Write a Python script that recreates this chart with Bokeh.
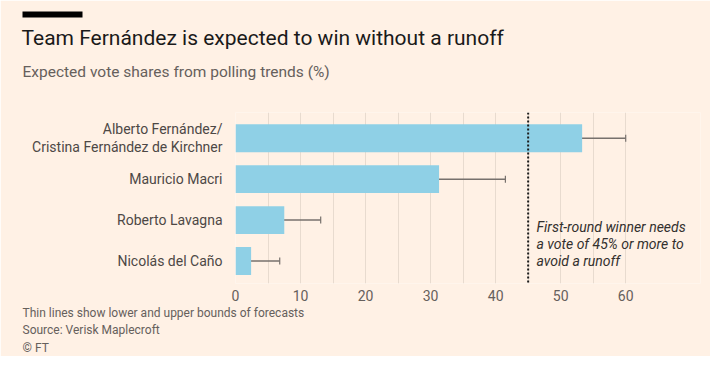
from bokeh.plotting import figure
from bokeh.models import (Range1d, FixedTicker, Label, Span, Whisker, TeeHead,
                          ColumnDataSource, Title)
from bokeh.embed import file_html
from bokeh.resources import INLINE

# ---- data ----
candidates = ["Alberto Fernández/\nCristina Fernández de Kirchner",
              "Mauricio Macri", "Roberto Lavagna", "Nicolás del Caño"]
expected = [53.3, 31.3, 7.5, 2.4]
lower = [46.5, 21.4, 2.0, 1.3]
upper = [60.0, 41.5, 13.1, 6.8]
threshold = 45
x_ticks = [0, 10, 20, 30, 40, 50, 60]
x_minor = [5, 15, 25, 35, 45, 55]

title = "Team Fernández is expected to win without a runoff"
subtitle = "Expected vote shares from polling trends (%)"
notes = ["Thin lines show lower and upper bounds of forecasts",
         "Source: Verisk Maplecroft", "© FT"]
annotation = ["First-round winner needs", "a vote of 45% or more to", "avoid a runoff"]

BG = "#fff1e5"
BAR = "#8fd0e6"
TXT = "#33302e"
GREY = "#66605c"
FONT = "Roboto"

FRAME_L, FRAME_R, FRAME_T, FRAME_B = 235, 700, 112, 283
W, H = 710, 356

n = len(candidates)
ypos = list(range(n - 1, -1, -1))

src = ColumnDataSource(dict(y=ypos, v=expected, lo=lower, hi=upper))

p = figure(width=W, height=H, output_backend="svg", toolbar_location=None,
           x_range=Range1d(0, 71.5), y_range=Range1d(-0.55, 3.63),
           min_border_left=FRAME_L, min_border_right=W - FRAME_R,
           min_border_top=FRAME_T, min_border_bottom=H - FRAME_B,
           outline_line_color=None,
           background_fill_color=BG, border_fill_color=BG)

p.hbar(y="y", right="v", left=0, height=0.68, source=src, color=BAR, line_color=None)
EB = "#77716d"
p.add_layout(Whisker(source=src, base="y", lower="lo", upper="hi", dimension="width",
                     line_color=EB, line_width=1.5,
                     upper_head=TeeHead(size=7, line_color=EB, line_width=1.2),
                     lower_head=TeeHead(size=7, line_color=EB, line_width=1.2)))

p.add_layout(Span(location=threshold, dimension="height", line_color="#1a1a1a",
                  line_width=2, line_dash="2 2"))

# axes
p.xaxis.ticker = FixedTicker(ticks=x_ticks, minor_ticks=x_minor)
p.xaxis.axis_line_color = None
p.xaxis.major_tick_line_color = None
p.xaxis.minor_tick_line_color = None
p.xaxis.major_tick_out = 0
p.xaxis.minor_tick_out = 0
p.xaxis.major_label_standoff = 6
p.xaxis.major_label_text_font = FONT
p.xaxis.major_label_text_font_size = "14px"
p.xaxis.major_label_text_line_height = 1.0
p.xaxis.major_label_text_color = GREY

p.yaxis.ticker = FixedTicker(ticks=ypos)
p.yaxis.major_label_overrides = {y: c for y, c in zip(ypos, candidates)}
p.yaxis.axis_line_color = None
p.yaxis.major_tick_line_color = None
p.yaxis.minor_tick_line_color = None
p.yaxis.major_tick_out = 0
p.yaxis.major_label_standoff = 13
p.yaxis.major_label_text_font = FONT
p.yaxis.major_label_text_font_size = "14px"
p.yaxis.major_label_text_line_height = 1.1
p.yaxis.major_label_text_color = "#4d4845"

p.ygrid.grid_line_color = None
p.xgrid.grid_line_color = "#e8dbcf"
p.xgrid.minor_grid_line_color = "#e8dbcf"

# annotation inside the frame
for i, t in enumerate(annotation):
    p.add_layout(Label(x=536 - FRAME_L, y=FRAME_B - (226 + 17 * i),
                       x_units="screen", y_units="screen", text=t,
                       text_font=FONT, text_font_size="14px", text_color=TXT,
                       text_font_style="italic", text_baseline="middle"))

OFF = 22 - FRAME_L

# titles above (first added = nearest to the frame)
p.add_layout(Title(text="\u00a0", align="left", offset=OFF, standoff=20,
                   text_font=FONT, text_font_size="1px"), "above")
p.add_layout(Title(text=subtitle, align="left", offset=OFF, standoff=18,
                   text_font=FONT, text_font_size="15.5px", text_font_style="normal",
                   text_color=GREY), "above")
p.add_layout(Title(text=title, align="left", offset=OFF - 1, standoff=4,
                   text_font=FONT, text_font_size="21px", text_font_style="normal",
                   text_color="#1a1a1a"), "above")
p.add_layout(Title(text="\u2003" * 12, align="left", offset=OFF, standoff=8,
                   text_font="DejaVu Sans", text_font_size="5px",
                   background_fill_color="#000000", text_color="#000000"), "above")

# notes below (after the x axis)
p.add_layout(Title(text="\n".join(notes), align="left", offset=OFF, standoff=0,
                   text_font=FONT, text_font_size="12px", text_line_height=1.25,
                   text_font_style="normal", text_color=GREY), "below")

open("out.html", "w").write(file_html(p, INLINE))
